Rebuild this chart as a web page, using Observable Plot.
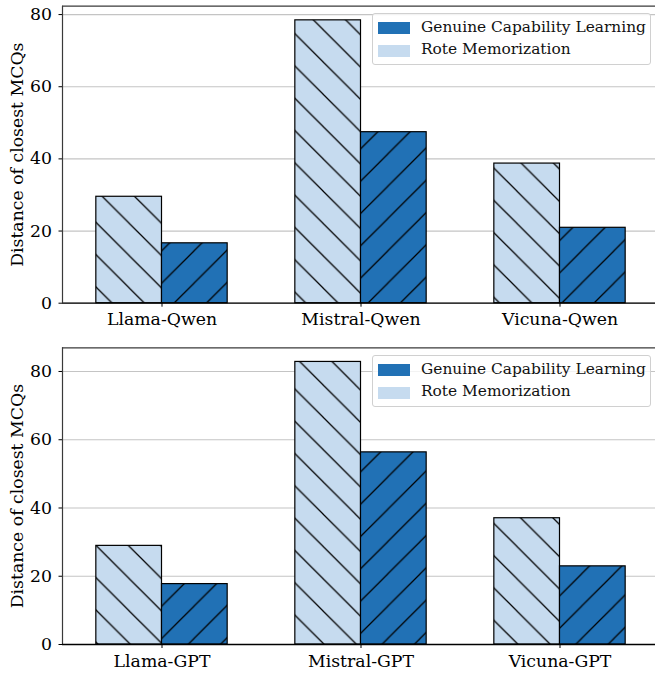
<!DOCTYPE html>
<html>
<head>
<meta charset="utf-8">
<script src="https://cdn.jsdelivr.net/npm/d3@7"></script>
<script src="https://cdn.jsdelivr.net/npm/@observablehq/plot@0.6"></script>
<style>
  body { margin: 0; background: #fff; }
  #chart { position: relative; width: 655px; height: 673px; overflow: hidden; font-family: "DejaVu Serif", serif; }
  .panel { position: absolute; left: 0; }
  .legend { position: absolute; left: 372px; width: 277px; height: 50px; border: 1px solid #d0d0d0; border-radius: 3px; background: rgba(255,255,255,0.8); }
  .patch { position: absolute; left: 5px; width: 32px; height: 12px; }
  .ltext { position: absolute; left: 48px; font-size: 15.4px; line-height: 15.4px; color: #111; white-space: nowrap; }
</style>
</head>
<body>
<div id="chart"></div>
<script>
// ---- data ----
const groupsTop = ["Llama-Qwen", "Mistral-Qwen", "Vicuna-Qwen"];
const groupsBottom = ["Llama-GPT", "Mistral-GPT", "Vicuna-GPT"];
const seriesNames = ["Genuine Capability Learning", "Rote Memorization"];
const roteTop = [29.5, 78.4, 38.7];
const genuineTop = [16.6, 47.4, 20.9];
const roteBottom = [28.9, 82.8, 37.0];
const genuineBottom = [17.7, 56.3, 22.9];
const yTicks = [0, 20, 40, 60, 80];
const yLabel = "Distance of closest MCQs";

// ---- style ----
const LIGHT = "#c6dbef", DARK = "#2171b5";
const BAR_W = 0.33;
const P = 32.3;           // hatch period (px)
const PHASE_L = 29.5;     // "\" hatch phase in page coords
const PHASE_D = 25;       // "/" hatch phase in page coords

const chart = document.getElementById("chart");

function addPatterns(svg, key, top) {
  const mod = v => ((v % P) + P) % P;
  const defs = d3.select(svg).insert("defs", ":first-child");
  const pl = defs.append("pattern").attr("id", "hl-" + key).attr("patternUnits", "userSpaceOnUse")
    .attr("width", P).attr("height", P).attr("x", 0).attr("y", mod(PHASE_L - top));
  pl.append("rect").attr("width", P).attr("height", P).attr("fill", LIGHT);
  pl.append("path").attr("d", `M-8,-8L${P+8},${P+8}M-8,${P-8}L8,${P+8}M${P-8},-8L${P+8},8`)
    .attr("stroke", "black").attr("stroke-width", 1.25).attr("fill", "none");
  const pd = defs.append("pattern").attr("id", "hd-" + key).attr("patternUnits", "userSpaceOnUse")
    .attr("width", P).attr("height", P).attr("x", 0).attr("y", mod(PHASE_D - top));
  pd.append("rect").attr("width", P).attr("height", P).attr("fill", DARK);
  pd.append("path").attr("d", `M-8,${P+8}L${P+8},-8M-8,8L8,-8M${P-8},${P+8}L${P+8},${P-8}`)
    .attr("stroke", "black").attr("stroke-width", 1.25).attr("fill", "none");
}

function panel(key, groups, rote, genuine, top, height, marginTop, marginBottom, legendTop) {
  const roteRows = groups.map((g, i) => ({group: g, i, value: rote[i]}));
  const genRows = groups.map((g, i) => ({group: g, i, value: genuine[i]}));
  const yMax = d3.max([...rote, ...genuine]) * 1.05;
  const svg = Plot.plot({
    width: 655, height, marginTop, marginBottom, marginLeft: 62, marginRight: 0,
    x: {domain: [-0.5, 2.5], range: [62, 659]},
    y: {domain: [0, yMax], nice: false},
    style: {fontFamily: "DejaVu Serif, serif", fontSize: "17.3px", background: "transparent", color: "black"},
    marks: [
      Plot.gridY(yTicks, {stroke: "#c4c4c4", strokeOpacity: 1, strokeWidth: 1.2}),
      Plot.rectY(roteRows, {x1: d => d.i - BAR_W, x2: d => d.i, y1: 0, y2: "value",
        fill: `url(#hl-${key})`, stroke: "black", strokeWidth: 1.2}),
      Plot.rectY(genRows, {x1: d => d.i, x2: d => d.i + BAR_W, y1: 0, y2: "value",
        fill: `url(#hd-${key})`, stroke: "black", strokeWidth: 1.2}),
      Plot.ruleY([yMax], {stroke: "#3a3a3a", strokeWidth: 1.2}),
      Plot.ruleX([-0.5], {stroke: "#3a3a3a", strokeWidth: 1.2}),
      Plot.ruleY([0], {stroke: "black", strokeWidth: 1.3}),
      Plot.axisY(yTicks, {tickSize: 3.5, tickPadding: 7, label: null, fontSize: 17.3}),
      Plot.axisX([0, 1, 2], {tickFormat: d => groups[d], tickSize: 4, tickPadding: 6, label: null, fontSize: 17.3}),
      Plot.text([yLabel], {frameAnchor: "left", textAnchor: "middle", lineAnchor: "middle", dx: -45, rotate: -90, text: d => d, fontSize: 17.3, fill: "black"})
    ]
  });
  addPatterns(svg, key, top);
  svg.classList.add("panel");
  svg.style.top = top + "px";
  chart.appendChild(svg);

  const lg = document.createElement("div");
  lg.className = "legend";
  lg.style.top = legendTop + "px";
  const colors = [DARK, LIGHT];
  seriesNames.forEach((name, k) => {
    const p = document.createElement("div");
    p.className = "patch";
    p.style.top = (7.5 + 23 * k) + "px";
    p.style.background = colors[k];
    lg.appendChild(p);
    const t = document.createElement("div");
    t.className = "ltext";
    t.style.top = (5.5 + 22.7 * k) + "px";
    t.textContent = name;
    lg.appendChild(t);
  });
  chart.appendChild(lg);
}

panel("top", groupsTop, roteTop, genuineTop, 0, 340, 5.7, 37.3, 13);
panel("bot", groupsBottom, roteBottom, genuineBottom, 340, 333, 7.3, 29, 355);
</script>
</body>
</html>
